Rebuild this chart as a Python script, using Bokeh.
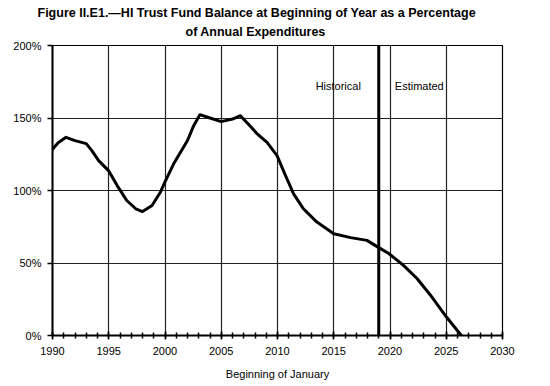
from bokeh.plotting import figure
from bokeh.models import Range1d, SingleIntervalTicker, FixedTicker, PrintfTickFormatter, Title, Span, ColumnDataSource
from bokeh.core.properties import value
from bokeh.embed import file_html
from bokeh.resources import INLINE

years = [1990.0, 1990.5, 1991.2, 1992.0, 1993.0, 1993.5, 1994.1, 1995.0, 1995.75, 1996.6,
         1997.4, 1998.0, 1998.85, 1999.6, 2000.0, 2000.77, 2002.0, 2002.55, 2003.1, 2004.0,
         2005.0, 2006.0, 2006.7, 2007.4, 2008.2, 2009.07, 2009.96, 2010.7, 2011.43, 2012.3,
         2013.5, 2015.0, 2016.5, 2017.95, 2019.0, 2019.9, 2021.2, 2022.4, 2023.6, 2025.0,
         2026.2, 2026.35]
ratio = [128.5, 133, 136.7, 134.4, 132.3, 127.5, 120.6, 113.5, 103.4, 93.1,
         87.4, 85.5, 89.7, 99, 106, 118.4, 134.5, 144.7, 152.3, 150,
         147.5, 149.3, 151.6, 145.9, 139, 133.2, 124, 110.5, 97.7, 87.4,
         78.2, 70.2, 67.5, 65.6, 60.6, 56.5, 48.4, 39.3, 27.8, 12.9,
         1.4, 0]
y_ticks = [0, 50, 100, 150, 200]
divider_year = 2019
note_x = [2015.4, 2022.6]
note_y = [172, 172]
note_text = ["Historical", "Estimated"]
title_line1 = "Figure II.E1.\u2014HI Trust Fund Balance at Beginning of Year as a Percentage"
title_line2 = "of Annual Expenditures"

FONT = "Liberation Sans"

p = figure(width=542, height=384, output_backend="svg", toolbar_location=None,
           x_range=Range1d(1990, 2030), y_range=Range1d(0, 200),
           min_border_left=52, min_border_right=40, min_border_top=45, min_border_bottom=49)
p.background_fill_color = "white"
p.border_fill_color = "white"
p.outline_line_color = "black"
p.outline_line_width = 1.2

t2 = Title(text=title_line2, align="left", offset=133, text_font=FONT,
           text_font_size="12.5px", text_font_style="bold", text_color="black", standoff=13)
t1 = Title(text=title_line1, align="left", offset=-15, text_font=FONT,
           text_font_size="12.5px", text_font_style="bold", text_color="black", standoff=-7)
p.add_layout(t2, "above")
p.add_layout(t1, "above")

p.xaxis.ticker = SingleIntervalTicker(interval=5, num_minor_ticks=5)
p.yaxis.ticker = FixedTicker(ticks=y_ticks)
p.yaxis.formatter = PrintfTickFormatter(format="%d%%")
for ax in (p.xaxis, p.yaxis):
    ax.axis_line_color = "black"
    ax.axis_line_width = 2
    ax.major_tick_line_color = "black"
    ax.major_tick_line_width = 1.5
    ax.minor_tick_line_color = "black"
    ax.minor_tick_line_width = 1.5
    ax.major_label_text_font = FONT
    ax.major_label_text_font_size = "11px"
    ax.major_label_text_color = "black"
    ax.axis_label_text_font = FONT
    ax.axis_label_text_font_size = "11px"
    ax.axis_label_text_font_style = "normal"
    ax.axis_label_text_color = "black"
p.xaxis.major_tick_in = 4
p.xaxis.major_tick_out = 4
p.xaxis.minor_tick_in = 3
p.xaxis.minor_tick_out = 3
p.xaxis.major_label_standoff = 7
p.xaxis.axis_label = "Beginning of January"
p.xaxis.axis_label_standoff = 10
p.yaxis.major_tick_in = 0
p.yaxis.major_tick_out = 5
p.yaxis.minor_tick_line_color = None
p.yaxis.major_label_standoff = 6

p.grid.grid_line_color = "#222222"
p.grid.grid_line_width = 1.2
p.grid.grid_line_alpha = 1.0

p.add_layout(Span(location=divider_year, dimension="height", line_color="black", line_width=3))

src = ColumnDataSource(dict(x=years, y=ratio))
p.line("x", "y", source=src, line_color="black", line_width=3, line_join="round", line_cap="round")

p.text(x=note_x, y=note_y, text=note_text, text_font=value(FONT), text_font_size="11px",
       text_align="center", text_baseline="middle", text_color="black")

open("out.html", "w").write(file_html(p, INLINE))
